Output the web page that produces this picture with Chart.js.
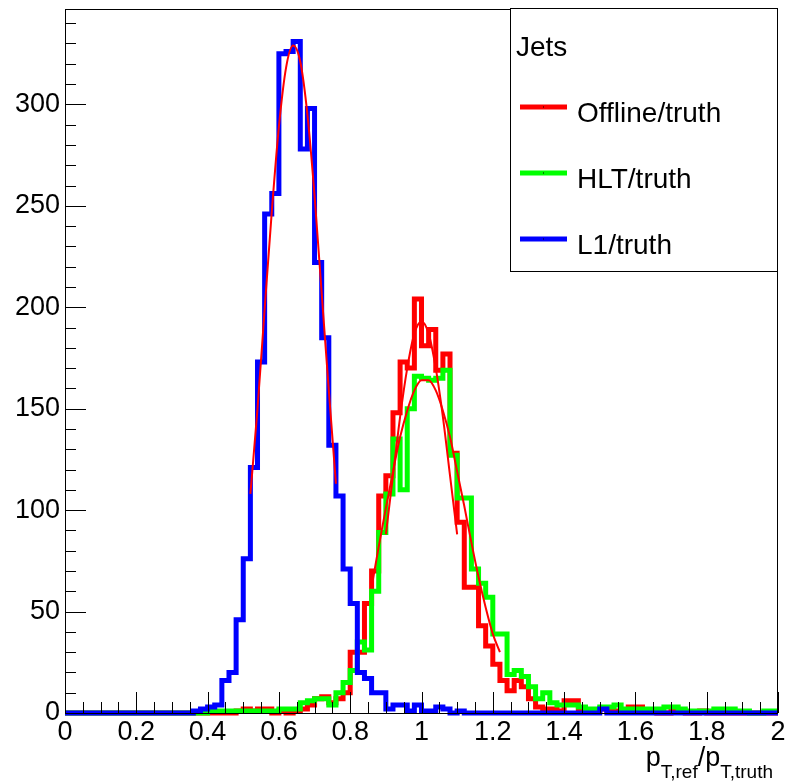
<!DOCTYPE html>
<html>
<head>
<meta charset="utf-8">
<script src="https://cdn.jsdelivr.net/npm/chart.js@4.4.1/dist/chart.umd.min.js"></script>
<style>
  html, body { margin: 0; padding: 0; background: #fff; }
  #wrap { width: 785px; height: 781px; }
</style>
</head>
<body>
<div id="wrap"><canvas id="resp" width="785" height="781"></canvas></div>
<script>
// histogram binning: 100 bins of 0.02 from 0 to 2
const binWidth = 0.02;
const nBins = 100;

// Offline/truth (red)
const offline = [
  0, 0, 0, 0, 0, 0, 0, 0, 0, 0,
  0, 0, 0, 0, 0, 0, 0, 0, 0, 0,
  0, 0, 0, 0, 1, 2, 1, 2, 2, 0,
  1, 0, 1, 2, 4, 7, 8, 5, 7, 10,
  30, 30, 54, 70, 107, 117, 148, 173, 170, 204,
  181, 189, 169, 177, 128, 94, 62, 62, 43, 33,
  24, 16, 11, 16, 13, 7, 3, 2, 2, 1,
  6, 6, 2, 1, 1, 2, 1, 1, 1, 3,
  3, 1, 1, 0, 0, 1, 1, 0, 0, 1,
  0, 0, 0, 0, 0, 0, 0, 0, 0, 0
];

// HLT/truth (green)
const hlt = [
  0, 0, 0, 0, 0, 0, 0, 0, 0, 0,
  0, 0, 0, 0, 0, 0, 0, 0, 0, 0,
  1, 1, 1, 1, 1, 1, 1, 1, 1, 1,
  2, 2, 2, 5, 6, 7, 7, 4, 10, 15,
  21, 35, 31, 60, 89, 108, 135, 110, 150, 166,
  165, 164, 165, 169, 127, 106, 106, 71, 64, 57,
  39, 39, 19, 21, 18, 13, 7, 10, 5, 4,
  4, 4, 3, 2, 2, 3, 3, 4, 2, 2,
  2, 2, 2, 2, 3, 3, 2, 1, 1, 1,
  1, 2, 2, 2, 1, 1, 0, 0, 1, 1
];

// L1/truth (blue)
const l1 = [
  0, 0, 0, 0, 0, 0, 0, 0, 0, 0,
  0, 0, 0, 0, 0, 0, 0, 0, 1, 2,
  3, 4, 16, 20, 46, 76, 121, 173, 246, 256,
  325, 326, 331, 278, 298, 222, 185, 132, 107, 71,
  54, 20, 17, 10, 10, 2, 4, 4, 1, 4,
  1, 1, 3, 2, 0, 1, 0, 0, 0, 0,
  0, 0, 0, 0, 0, 0, 0, 0, 0, 0,
  0, 0, 0, 0, 0, 2, 0, 0, 0, 0,
  0, 0, 0, 0, 0, 0, 0, 0, 0, 0,
  0, 0, 0, 0, 0, 0, 0, 0, 0, 0
];

// fitted curves
const fitL1X = [0.52, 0.54, 0.56, 0.58, 0.60, 0.62, 0.64, 0.66, 0.68, 0.70, 0.72, 0.74, 0.76];
const fitL1Y = [108, 150, 199, 247, 289, 318, 329, 321, 295, 255, 207, 159, 113];

const fitOffX = [0.90, 0.92, 0.94, 0.96, 0.98, 1.00, 1.02, 1.04, 1.06, 1.08, 1.10];
const fitOffY = [88, 117, 146, 170, 187, 193, 187, 170, 146, 117, 88];

const fitHltX = [0.86, 0.88, 0.90, 0.92, 0.94, 0.96, 0.98, 1.00, 1.02, 1.04, 1.06, 1.08, 1.10, 1.12, 1.14, 1.16, 1.18, 1.20, 1.22];
const fitHltY = [62, 82, 101, 119, 136, 149, 159, 164, 164, 159, 149, 136, 119, 102, 84, 67, 52, 39, 30];

const xTicks = { min: 0, max: 2, major: 0.2, minor: 0.05 };
const yTicks = { min: 0, max: 347, major: 50, minor: 10 };

const FONT = "'Liberation Sans', Arial, Helvetica, sans-serif";

function histPoints(values) {
  const pts = values.map((v, i) => ({ x: i * binWidth, y: v }));
  pts.push({ x: nBins * binWidth, y: values[values.length - 1] });
  return pts;
}

function curvePoints(xs, ys) {
  return xs.map((x, i) => ({ x: x, y: ys[i] }));
}

function histDataset(label, values, color, order) {
  return {
    label: label,
    data: histPoints(values),
    borderColor: color,
    backgroundColor: color,
    borderWidth: 5,
    stepped: true,
    pointRadius: 0,
    fill: false,
    borderJoinStyle: 'miter',
    borderCapStyle: 'butt',
    clip: { left: 4, right: 4, top: 0, bottom: 3 },
    order: order
  };
}

function fitDataset(xs, ys) {
  return {
    label: 'fit',
    data: curvePoints(xs, ys),
    borderColor: '#ff0000',
    borderWidth: 2,
    pointRadius: 0,
    fill: false,
    cubicInterpolationMode: 'monotone',
    order: 0
  };
}

// inner tick marks, frame, legend box and axis title, ROOT style
const rootStyle = {
  id: 'rootStyle',
  afterDatasetsDraw(chart) {
    const ctx = chart.ctx;
    const xs = chart.scales.x, ys = chart.scales.y;
    const a = chart.chartArea;
    ctx.save();
    ctx.strokeStyle = '#000';
    ctx.lineWidth = 1;
    ctx.beginPath();
    const nx = Math.round((xTicks.max - xTicks.min) / xTicks.minor);
    const perMajorX = Math.round(xTicks.major / xTicks.minor);
    for (let k = 0; k <= nx; k++) {
      const px = Math.round(xs.getPixelForValue(xTicks.min + k * xTicks.minor)) + 0.5;
      const len = k % perMajorX === 0 ? 21 : 11;
      ctx.moveTo(px, a.bottom);
      ctx.lineTo(px, a.bottom - len);
    }
    const ny = Math.floor((yTicks.max - yTicks.min) / yTicks.minor);
    const perMajorY = Math.round(yTicks.major / yTicks.minor);
    for (let k = 0; k <= ny; k++) {
      const py = Math.round(ys.getPixelForValue(yTicks.min + k * yTicks.minor)) + 0.5;
      const len = k % perMajorY === 0 ? 21 : 11;
      ctx.moveTo(a.left, py);
      ctx.lineTo(a.left + len, py);
    }
    ctx.stroke();
    ctx.strokeRect(Math.round(a.left) + 0.5, Math.round(a.top) + 0.5,
      Math.round(a.right - a.left) - 1, Math.round(a.bottom - a.top));
    ctx.restore();
  },
  afterDraw(chart) {
    const ctx = chart.ctx;
    const a = chart.chartArea;
    ctx.save();
    // legend
    const lx = 510.5, ly = 8.5, lw = 267, lh = 263;
    ctx.fillStyle = '#fff';
    ctx.fillRect(lx, ly, lw, lh);
    ctx.strokeStyle = '#000';
    ctx.lineWidth = 1;
    ctx.strokeRect(lx, ly, lw, lh);
    ctx.fillStyle = '#000';
    ctx.font = '28px ' + FONT;
    ctx.textBaseline = 'alphabetic';
    ctx.textAlign = 'left';
    ctx.fillText('Jets', 516, 56);
    const rows = [107, 173, 239];
    const entries = chart.data.datasets.filter(d => d.label !== 'fit');
    entries.forEach((d, i) => {
      const y = rows[i];
      ctx.strokeStyle = d.borderColor;
      ctx.lineWidth = 5;
      ctx.beginPath();
      ctx.moveTo(520, y);
      ctx.lineTo(567, y);
      ctx.stroke();
      ctx.fillStyle = '#000';
      ctx.fillRect(543, y - 0.5, 1, 1);
      ctx.fillText(d.label, 577, y + 14.5);
    });
    // x axis title p_{T,ref}/p_{T,truth}
    const parts = [
      ['p', 27, 0], ['T,ref', 19, 12], ['/', 27, 0], ['p', 27, 0], ['T,truth', 19, 12]
    ];
    let total = 0;
    parts.forEach(p => { ctx.font = p[1] + 'px ' + FONT; total += ctx.measureText(p[0]).width; });
    let x = a.right - 5 - total;
    const base = 766;
    parts.forEach(p => {
      ctx.font = p[1] + 'px ' + FONT;
      ctx.fillText(p[0], x, base + p[2]);
      x += ctx.measureText(p[0]).width;
    });
    ctx.restore();
  }
};

const ctx = document.getElementById('resp').getContext('2d');
new Chart(ctx, {
  type: 'line',
  data: {
    datasets: [
      fitDataset(fitL1X, fitL1Y),
      fitDataset(fitOffX, fitOffY),
      fitDataset(fitHltX, fitHltY),
      histDataset('Offline/truth', offline, '#ff0000', 3),
      histDataset('HLT/truth', hlt, '#00ff00', 2),
      histDataset('L1/truth', l1, '#0000ff', 1)
    ]
  },
  options: {
    responsive: false,
    animation: false,
    devicePixelRatio: 1,
    layout: { padding: { left: 0, right: 7, top: 9, bottom: 0 } },
    plugins: { legend: { display: false }, tooltip: { enabled: false } },
    scales: {
      x: {
        type: 'linear',
        bounds: 'data',
        min: xTicks.min,
        max: xTicks.max,
        grid: { display: false, drawTicks: false },
        border: { display: false },
        ticks: {
          stepSize: xTicks.major,
          autoSkip: false,
          maxRotation: 0,
          padding: 3,
          color: '#000',
          font: { family: FONT, size: 27 },
          callback: v => String(Math.round(v * 10) / 10)
        },
        afterFit: s => { s.height = 68; s.paddingLeft = 0; s.paddingRight = 0; }
      },
      y: {
        type: 'linear',
        bounds: 'data',
        min: yTicks.min,
        max: yTicks.max,
        grid: { display: false, drawTicks: false },
        border: { display: false },
        ticks: {
          stepSize: yTicks.major,
          includeBounds: false,
          padding: 5,
          color: '#000',
          font: { family: FONT, size: 27 }
        },
        afterBuildTicks: s => {
          s.ticks = s.ticks.filter(t => Math.abs(t.value % yTicks.major) < 1e-6);
        },
        afterFit: s => { s.width = 65; s.paddingTop = 0; s.paddingBottom = 0; }
      }
    }
  },
  plugins: [rootStyle]
});
</script>
</body>
</html>
